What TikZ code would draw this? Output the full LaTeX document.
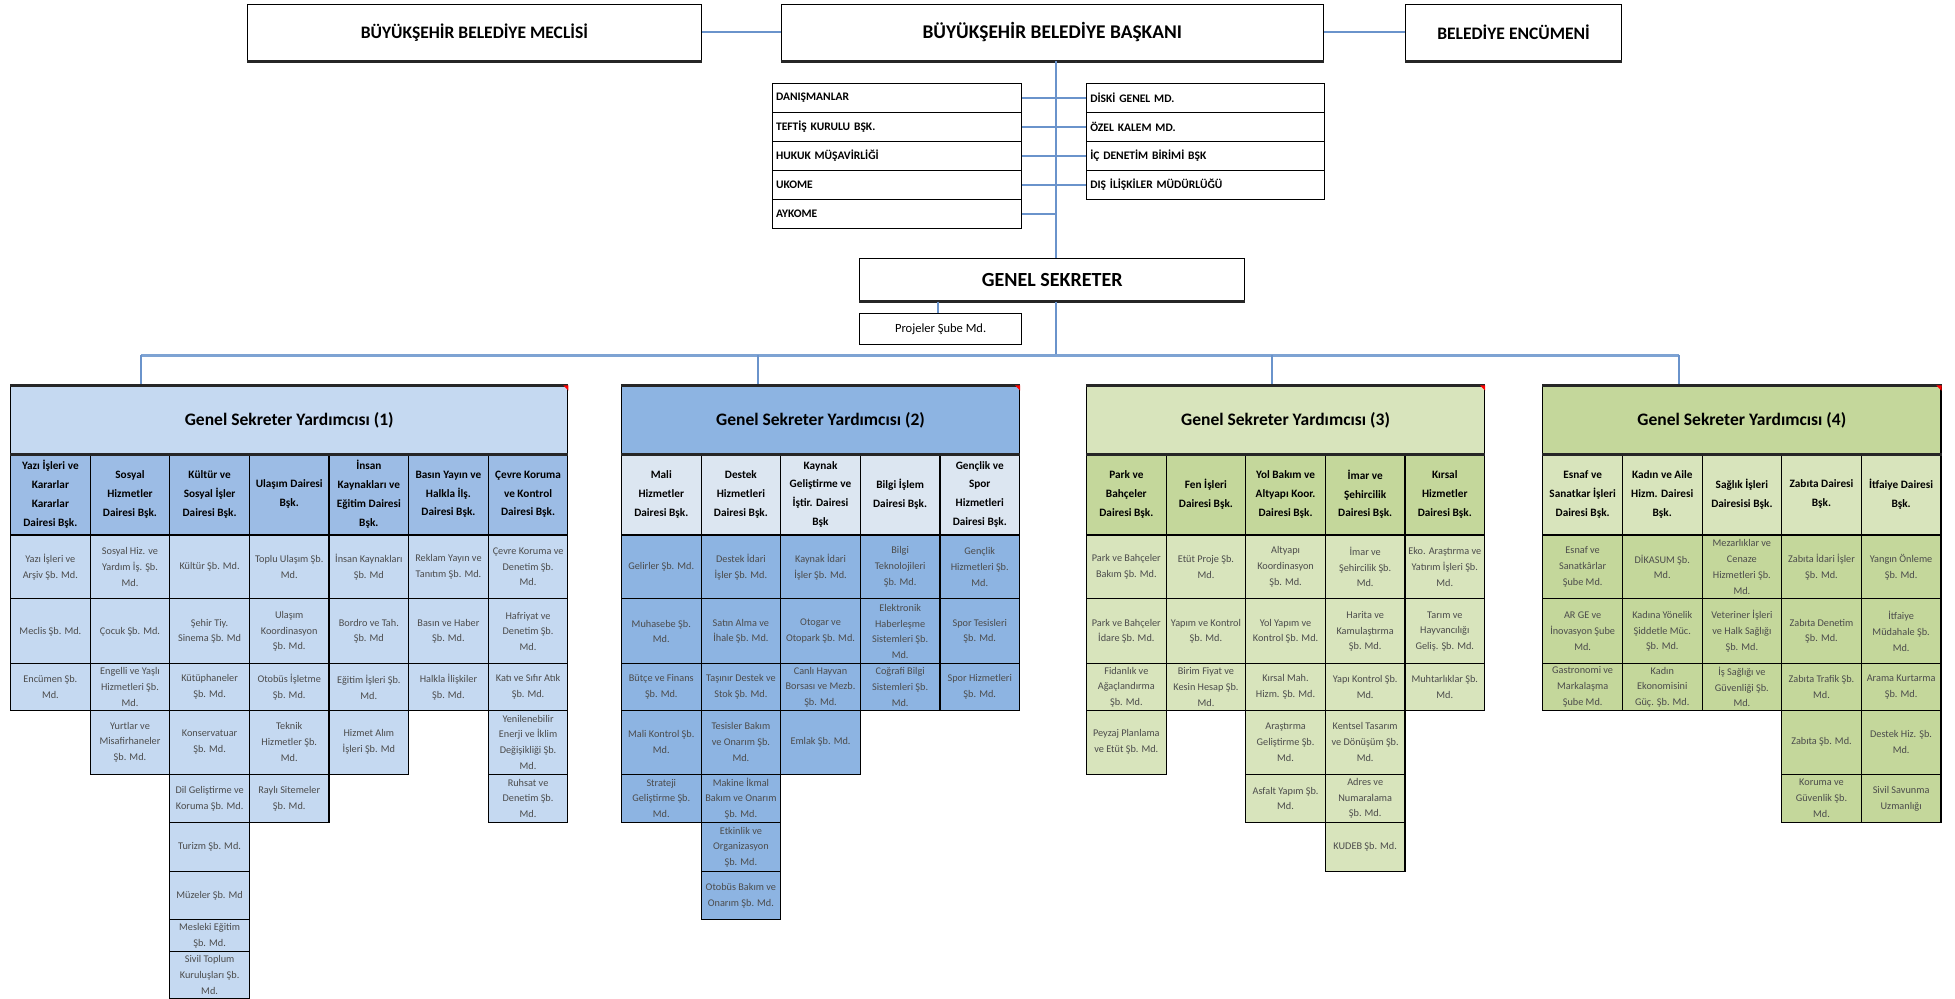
\documentclass[tikz,border=0pt]{standalone}
\usepackage{fontspec}
\setmainfont{Carlito}
\definecolor{gAt}{HTML}{C5D9F1}
\definecolor{gAh}{HTML}{9CBCE5}
\definecolor{gBt}{HTML}{8DB4E2}
\definecolor{gBh}{HTML}{DCE6F1}
\definecolor{gCt}{HTML}{D8E4BC}
\definecolor{gCh}{HTML}{C4D79B}
\definecolor{gDt}{HTML}{C4D79B}
\definecolor{gDh}{HTML}{D8E4BC}
\definecolor{lineblue}{HTML}{6A93CB}
\definecolor{busblue}{HTML}{7EA3D3}
\tikzset{
  cellbase/.style={draw=black, line width=0.9pt, anchor=north west, minimum width=63.61pt, align=center, inner xsep=0pt, inner ysep=0pt},
  hdA/.style={cellbase, fill=gAh, font=\fontsize{9}{15}\selectfont\bfseries},
  bdA/.style={cellbase, fill=gAt, text=black!70, font=\fontsize{8.2}{12.6}\selectfont},
  hdB/.style={cellbase, fill=gBh, font=\fontsize{9}{15}\selectfont\bfseries},
  bdB/.style={cellbase, fill=gBt, text=black!70, font=\fontsize{8.2}{12.6}\selectfont},
  hdC/.style={cellbase, fill=gCh, font=\fontsize{9}{15}\selectfont\bfseries},
  bdC/.style={cellbase, fill=gCt, text=black!70, font=\fontsize{8.2}{12.6}\selectfont},
  hdD/.style={cellbase, fill=gDh, font=\fontsize{9}{15}\selectfont\bfseries},
  bdD/.style={cellbase, fill=gDt, text=black!70, font=\fontsize{8.2}{12.6}\selectfont},
  gtitle/.style={draw=black, line width=0.9pt, anchor=north west, minimum width=318.05pt, minimum height=54pt, font=\fontsize{14}{16}\selectfont\bfseries},
  topbox/.style={draw=black, line width=0.9pt, anchor=north west, fill=white, minimum height=45pt, font=\fontsize{14}{16}\selectfont\bfseries},
  smallbox/.style={draw=black, line width=0.9pt, anchor=north west, fill=white, minimum height=23.2pt, align=left, inner xsep=3pt, inner ysep=0pt, font=\fontsize{9.2}{10}\selectfont\bfseries},
  conn/.style={draw=lineblue, line width=1.6pt},
  busline/.style={draw=busblue, line width=3pt},
  heavy/.style={line width=2.4pt, draw=black!85},
  corner/.style={fill=red},
}
\newcommand\cl[6]{\node[#1, minimum height=#5pt] (#2) at (#3,#4) {#6};}
\begin{document}
\begin{tikzpicture}[x=1pt, y=-1pt]
\useasboundingbox (0,0) rectangle (1562,797.4);

% ---------- top level ----------
\node[topbox, minimum width=362.5pt] (meclis) at (197.3,3) {BÜYÜKŞEHİR BELEDİYE MECLİSİ};
\node[topbox, minimum width=433.3pt, font=\fontsize{15.5}{17}\selectfont\bfseries] (baskan) at (623.6,3) {BÜYÜKŞEHİR BELEDİYE BAŞKANI};
\node[topbox, minimum width=172.3pt] (encumen) at (1122.7,3) {BELEDİYE ENCÜMENİ};
\foreach \n in {meclis,baskan,encumen}{\draw[heavy] (\n.south west) -- (\n.south east);}
\draw[conn] (meclis.east) -- (baskan.west);
\draw[conn] (baskan.east) -- (encumen.west);

\coordinate (tr) at (843.7,0);

% left staff boxes
\node[smallbox, text width=193.2pt] (dan) at (616.6,66) {DANIŞMANLAR};
\node[smallbox, text width=193.2pt] (tef) at (616.6,89.2) {TEFTİŞ KURULU BŞK.};
\node[smallbox, text width=193.2pt] (huk) at (616.6,112.4) {HUKUK MÜŞAVİRLİĞİ};
\node[smallbox, text width=193.2pt] (ukome) at (616.6,135.6) {UKOME};
\node[smallbox, text width=193.2pt] (aykome) at (616.6,158.8) {AYKOME};
% right staff boxes
\node[smallbox, text width=184.2pt] (diski) at (867.7,66) {DİSKİ GENEL MD.};
\node[smallbox, text width=184.2pt] (ozel) at (867.7,89.2) {ÖZEL KALEM MD.};
\node[smallbox, text width=184.2pt] (icden) at (867.7,112.4) {İÇ DENETİM BİRİMİ BŞK};
\node[smallbox, text width=184.2pt] (disil) at (867.7,135.6) {DIŞ İLİŞKİLER MÜDÜRLÜĞÜ};

% general secretary
\node[topbox, minimum width=307.8pt, minimum height=34pt, font=\fontsize{16}{18}\selectfont\bfseries] (gs) at (686.4,206) {GENEL SEKRETER};
\draw[heavy] (gs.south west) -- (gs.south east);
\node[draw=black, line width=0.9pt, anchor=north west, fill=white, minimum width=129.4pt, minimum height=25pt, font=\fontsize{10}{12}\selectfont] (proj) at (686.4,250) {Projeler Şube Md.};

\draw[conn] (baskan.south -| tr) -- (gs.north -| tr);
\foreach \n in {dan,tef,huk,ukome,aykome}{\draw[conn] (\n.east) -- (\n.east -| tr);}
\foreach \n in {diski,ozel,icden,disil}{\draw[conn] (\n.west) -- (\n.west -| tr);}
\coordinate (pj) at (749.1,0);
\draw[conn] (gs.south -| pj) -- (proj.north -| pj);

% bus
\coordinate (b0) at (843.7,284);
\coordinate (b1) at (112.6,284);
\coordinate (b2) at (605.7,284);
\coordinate (b3) at (1016.1,284);
\coordinate (b4) at (1341.8,284);
\draw[conn] (gs.south -| tr) -- (b0);
\draw[busline] (b1) -- (b4);

% ---------- group titles ----------
\node[gtitle, fill=gAt, minimum width=445.27pt] (g1) at (8,308) {Genel Sekreter Yardımcısı (1)};
\node[gtitle, fill=gBt] (g2) at (496.1,308) {Genel Sekreter Yardımcısı (2)};
\node[gtitle, fill=gCt] (g3) at (867.66,308) {Genel Sekreter Yardımcısı (3)};
\node[gtitle, fill=gDt] (g4) at (1232.24,308) {Genel Sekreter Yardımcısı (4)};
\draw[conn] (b1) -- (b1 |- g1.north);
\draw[conn] (b2) -- (b2 |- g2.north);
\draw[conn] (b3) -- (b3 |- g3.north);
\draw[conn] (b4) -- (b4 |- g4.north);

% ---------- group 1 ----------
\def\xa{8}\def\xb{71.61}\def\xc{135.22}\def\xd{198.83}\def\xe{262.44}\def\xf{326.05}\def\xg{389.66}
\cl{hdA}{g1h1}{\xa}{362}{65}{Yazı İşleri ve\\Kararlar\\Kararlar\\Dairesi Bşk.}
\cl{hdA}{g1h2}{\xb}{362}{65}{Sosyal\\Hizmetler\\Dairesi Bşk.}
\cl{hdA}{g1h3}{\xc}{362}{65}{Kültür ve\\Sosyal İşler\\Dairesi Bşk.}
\cl{hdA}{g1h4}{\xd}{362}{65}{Ulaşım Dairesi\\Bşk.}
\cl{hdA}{g1h5}{\xe}{362}{65}{İnsan\\Kaynakları ve\\Eğitim Dairesi\\Bşk.}
\cl{hdA}{g1h6}{\xf}{362}{65}{Basın Yayın ve\\Halkla İlş.\\Dairesi Bşk.}
\cl{hdA}{g1h7}{\xg}{362}{65}{Çevre Koruma\\ve Kontrol\\Dairesi Bşk.}

\cl{bdA}{g1a1}{\xa}{427}{51}{Yazı İşleri ve\\Arşiv Şb. Md.}
\cl{bdA}{g1a2}{\xa}{478}{52}{Meclis Şb. Md.}
\cl{bdA}{g1a3}{\xa}{530}{37}{Encümen Şb.\\Md.}

\cl{bdA}{g1b1}{\xb}{427}{51}{Sosyal Hiz. ve\\Yardım İş. Şb.\\Md.}
\cl{bdA}{g1b2}{\xb}{478}{52}{Çocuk Şb. Md.}
\cl{bdA}{g1b3}{\xb}{530}{37}{Engelli ve Yaşlı\\Hizmetleri Şb.\\Md.}
\cl{bdA}{g1b4}{\xb}{567}{51}{Yurtlar ve\\Misafirhaneler\\Şb. Md.}

\cl{bdA}{g1c1}{\xc}{427}{51}{Kültür Şb. Md.}
\cl{bdA}{g1c2}{\xc}{478}{52}{Şehir Tiy.\\Sinema Şb. Md}
\cl{bdA}{g1c3}{\xc}{530}{37}{Kütüphaneler\\Şb. Md.}
\cl{bdA}{g1c4}{\xc}{567}{51}{Konservatuar\\Şb. Md.}
\cl{bdA}{g1c5}{\xc}{618}{39}{Dil Geliştirme ve\\Koruma Şb. Md.}
\cl{bdA}{g1c6}{\xc}{657}{39}{Turizm Şb. Md.}
\cl{bdA}{g1c7}{\xc}{696}{38}{Müzeler Şb. Md}
\cl{bdA}{g1c8}{\xc}{734}{26}{Mesleki Eğitim\\Şb. Md.}
\cl{bdA}{g1c9}{\xc}{760}{37}{Sivil Toplum\\Kuruluşları Şb.\\Md.}

\cl{bdA}{g1d1}{\xd}{427}{51}{Toplu Ulaşım Şb.\\Md.}
\cl{bdA}{g1d2}{\xd}{478}{52}{Ulaşım\\Koordinasyon\\Şb. Md.}
\cl{bdA}{g1d3}{\xd}{530}{37}{Otobüs İşletme\\Şb. Md.}
\cl{bdA}{g1d4}{\xd}{567}{51}{Teknik\\Hizmetler Şb.\\Md.}
\cl{bdA}{g1d5}{\xd}{618}{39}{Raylı Sitemeler\\Şb. Md.}

\cl{bdA}{g1e1}{\xe}{427}{51}{İnsan Kaynakları\\Şb. Md}
\cl{bdA}{g1e2}{\xe}{478}{52}{Bordro ve Tah.\\Şb. Md}
\cl{bdA}{g1e3}{\xe}{530}{37}{Eğitim İşleri Şb.\\Md.}
\cl{bdA}{g1e4}{\xe}{567}{51}{Hizmet Alım\\İşleri Şb. Md}

\cl{bdA}{g1f1}{\xf}{427}{51}{Reklam Yayın ve\\Tanıtım Şb. Md.}
\cl{bdA}{g1f2}{\xf}{478}{52}{Basın ve Haber\\Şb. Md.}
\cl{bdA}{g1f3}{\xf}{530}{37}{Halkla İlişkiler\\Şb. Md.}

\cl{bdA}{g1g1}{\xg}{427}{51}{Çevre Koruma ve\\Denetim Şb.\\Md.}
\cl{bdA}{g1g2}{\xg}{478}{52}{Hafriyat ve\\Denetim Şb.\\Md.}
\cl{bdA}{g1g3}{\xg}{530}{37}{Katı ve Sıfır Atık\\Şb. Md.}
\cl{bdA}{g1g4}{\xg}{567}{51}{Yenilenebilir\\Enerji ve İklim\\Değişikliği Şb.\\Md.}
\cl{bdA}{g1g5}{\xg}{618}{39}{Ruhsat ve\\Denetim Şb.\\Md.}

% ---------- group 2 ----------
\def\xa{496.1}\def\xb{559.71}\def\xc{623.32}\def\xd{686.93}\def\xe{750.54}
\cl{hdB}{g2h1}{\xa}{362}{65}{Mali\\Hizmetler\\Dairesi Bşk.}
\cl{hdB}{g2h2}{\xb}{362}{65}{Destek\\Hizmetleri\\Dairesi Bşk.}
\cl{hdB}{g2h3}{\xc}{362}{65}{Kaynak\\Geliştirme ve\\İştir. Dairesi\\Bşk}
\cl{hdB}{g2h4}{\xd}{362}{65}{Bilgi İşlem\\Dairesi Bşk.}
\cl{hdB}{g2h5}{\xe}{362}{65}{Gençlik ve\\Spor\\Hizmetleri\\Dairesi Bşk.}

\cl{bdB}{g2a1}{\xa}{427}{51}{Gelirler Şb. Md.}
\cl{bdB}{g2a2}{\xa}{478}{52}{Muhasebe Şb.\\Md.}
\cl{bdB}{g2a3}{\xa}{530}{37}{Bütçe ve Finans\\Şb. Md.}
\cl{bdB}{g2a4}{\xa}{567}{51}{Mali Kontrol Şb.\\Md.}
\cl{bdB}{g2a5}{\xa}{618}{39}{Strateji\\Geliştirme Şb.\\Md.}

\cl{bdB}{g2b1}{\xb}{427}{51}{Destek İdari\\İşler Şb. Md.}
\cl{bdB}{g2b2}{\xb}{478}{52}{Satın Alma ve\\İhale Şb. Md.}
\cl{bdB}{g2b3}{\xb}{530}{37}{Taşınır Destek ve\\Stok Şb. Md.}
\cl{bdB}{g2b4}{\xb}{567}{51}{Tesisler Bakım\\ve Onarım Şb.\\Md.}
\cl{bdB}{g2b5}{\xb}{618}{39}{Makine İkmal\\Bakım ve Onarım\\Şb. Md.}
\cl{bdB}{g2b6}{\xb}{657}{39}{Etkinlik ve\\Organizasyon\\Şb. Md.}
\cl{bdB}{g2b7}{\xb}{696}{38}{Otobüs Bakım ve\\Onarım Şb. Md.}

\cl{bdB}{g2c1}{\xc}{427}{51}{Kaynak İdari\\İşler Şb. Md.}
\cl{bdB}{g2c2}{\xc}{478}{52}{Otogar ve\\Otopark Şb. Md.}
\cl{bdB}{g2c3}{\xc}{530}{37}{Canlı Hayvan\\Borsası ve Mezb.\\Şb. Md.}
\cl{bdB}{g2c4}{\xc}{567}{51}{Emlak Şb. Md.}

\cl{bdB}{g2d1}{\xd}{427}{51}{Bilgi\\Teknolojileri\\Şb. Md.}
\cl{bdB}{g2d2}{\xd}{478}{52}{Elektronik\\Haberleşme\\Sistemleri Şb.\\Md.}
\cl{bdB}{g2d3}{\xd}{530}{37}{Coğrafi Bilgi\\Sistemleri Şb.\\Md.}

\cl{bdB}{g2e1}{\xe}{427}{51}{Gençlik\\Hizmetleri Şb.\\Md.}
\cl{bdB}{g2e2}{\xe}{478}{52}{Spor Tesisleri\\Şb. Md.}
\cl{bdB}{g2e3}{\xe}{530}{37}{Spor Hizmetleri\\Şb. Md.}

% ---------- group 3 ----------
\def\xa{867.66}\def\xb{931.27}\def\xc{994.88}\def\xd{1058.49}\def\xe{1122.1}
\cl{hdC}{g3h1}{\xa}{362}{65}{Park ve\\Bahçeler\\Dairesi Bşk.}
\cl{hdC}{g3h2}{\xb}{362}{65}{Fen İşleri\\Dairesi Bşk.}
\cl{hdC}{g3h3}{\xc}{362}{65}{Yol Bakım ve\\Altyapı Koor.\\Dairesi Bşk.}
\cl{hdC}{g3h4}{\xd}{362}{65}{İmar ve\\Şehircilik\\Dairesi Bşk.}
\cl{hdC}{g3h5}{\xe}{362}{65}{Kırsal\\Hizmetler\\Dairesi Bşk.}

\cl{bdC}{g3a1}{\xa}{427}{51}{Park ve Bahçeler\\Bakım Şb. Md.}
\cl{bdC}{g3a2}{\xa}{478}{52}{Park ve Bahçeler\\İdare Şb. Md.}
\cl{bdC}{g3a3}{\xa}{530}{37}{Fidanlık ve\\Ağaçlandırma\\Şb. Md.}
\cl{bdC}{g3a4}{\xa}{567}{51}{Peyzaj Planlama\\ve Etüt Şb. Md.}

\cl{bdC}{g3b1}{\xb}{427}{51}{Etüt Proje Şb.\\Md.}
\cl{bdC}{g3b2}{\xb}{478}{52}{Yapım ve Kontrol\\Şb. Md.}
\cl{bdC}{g3b3}{\xb}{530}{37}{Birim Fiyat ve\\Kesin Hesap Şb.\\Md.}

\cl{bdC}{g3c1}{\xc}{427}{51}{Altyapı\\Koordinasyon\\Şb. Md.}
\cl{bdC}{g3c2}{\xc}{478}{52}{Yol Yapım ve\\Kontrol Şb. Md.}
\cl{bdC}{g3c3}{\xc}{530}{37}{Kırsal Mah.\\Hizm. Şb. Md.}
\cl{bdC}{g3c4}{\xc}{567}{51}{Araştırma\\Geliştirme Şb.\\Md.}
\cl{bdC}{g3c5}{\xc}{618}{39}{Asfalt Yapım Şb.\\Md.}

\cl{bdC}{g3d1}{\xd}{427}{51}{İmar ve\\Şehircilik Şb.\\Md.}
\cl{bdC}{g3d2}{\xd}{478}{52}{Harita ve\\Kamulaştırma\\Şb. Md.}
\cl{bdC}{g3d3}{\xd}{530}{37}{Yapı Kontrol Şb.\\Md.}
\cl{bdC}{g3d4}{\xd}{567}{51}{Kentsel Tasarım\\ve Dönüşüm Şb.\\Md.}
\cl{bdC}{g3d5}{\xd}{618}{39}{Adres ve\\Numaralama\\Şb. Md.}
\cl{bdC}{g3d6}{\xd}{657}{39}{KUDEB Şb. Md.}

\cl{bdC}{g3e1}{\xe}{427}{51}{Eko. Araştırma ve\\Yatırım İşleri Şb.\\Md.}
\cl{bdC}{g3e2}{\xe}{478}{52}{Tarım ve\\Hayvancılığı\\Geliş. Şb. Md.}
\cl{bdC}{g3e3}{\xe}{530}{37}{Muhtarlıklar Şb.\\Md.}

% ---------- group 4 ----------
\def\xa{1232.24}\def\xb{1295.85}\def\xc{1359.46}\def\xd{1423.07}\def\xe{1486.68}
\cl{hdD}{g4h1}{\xa}{362}{65}{Esnaf ve\\Sanatkar İşleri\\Dairesi Bşk.}
\cl{hdD}{g4h2}{\xb}{362}{65}{Kadın ve Aile\\Hizm. Dairesi\\Bşk.}
\cl{hdD}{g4h3}{\xc}{362}{65}{Sağlık İşleri\\Dairesisi Bşk.}
\cl{hdD}{g4h4}{\xd}{362}{65}{Zabıta Dairesi\\Bşk.}
\cl{hdD}{g4h5}{\xe}{362}{65}{İtfaiye Dairesi\\Bşk.}

\cl{bdD}{g4a1}{\xa}{427}{51}{Esnaf ve\\Sanatkârlar\\Şube Md.}
\cl{bdD}{g4a2}{\xa}{478}{52}{AR GE ve\\İnovasyon Şube\\Md.}
\cl{bdD}{g4a3}{\xa}{530}{37}{Gastronomi ve\\Markalaşma\\Şube Md.}

\cl{bdD}{g4b1}{\xb}{427}{51}{DİKASUM Şb.\\Md.}
\cl{bdD}{g4b2}{\xb}{478}{52}{Kadına Yönelik\\Şiddetle Müc.\\Şb. Md.}
\cl{bdD}{g4b3}{\xb}{530}{37}{Kadın\\Ekonomisini\\Güç. Şb. Md.}

\cl{bdD}{g4c1}{\xc}{427}{51}{Mezarlıklar ve\\Cenaze\\Hizmetleri Şb.\\Md.}
\cl{bdD}{g4c2}{\xc}{478}{52}{Veteriner İşleri\\ve Halk Sağlığı\\Şb. Md.}
\cl{bdD}{g4c3}{\xc}{530}{37}{İş Sağlığı ve\\Güvenliği Şb.\\Md.}

\cl{bdD}{g4d1}{\xd}{427}{51}{Zabıta İdari İşler\\Şb. Md.}
\cl{bdD}{g4d2}{\xd}{478}{52}{Zabıta Denetim\\Şb. Md.}
\cl{bdD}{g4d3}{\xd}{530}{37}{Zabıta Trafik Şb.\\Md.}
\cl{bdD}{g4d4}{\xd}{567}{51}{Zabıta Şb. Md.}
\cl{bdD}{g4d5}{\xd}{618}{39}{Koruma ve\\Güvenlik Şb.\\Md.}

\cl{bdD}{g4e1}{\xe}{427}{51}{Yangın Önleme\\Şb. Md.}
\cl{bdD}{g4e2}{\xe}{478}{52}{İtfaiye\\Müdahale Şb.\\Md.}
\cl{bdD}{g4e3}{\xe}{530}{37}{Arama Kurtarma\\Şb. Md.}
\cl{bdD}{g4e4}{\xe}{567}{51}{Destek Hiz. Şb.\\Md.}
\cl{bdD}{g4e5}{\xe}{618}{39}{Sivil Savunma\\Uzmanlığı}

% heavy edges of the title boxes and comment markers
\foreach \g in {g1,g2,g3,g4}{
  \draw[heavy] (\g.north west) -- (\g.north east);
  \draw[heavy] (\g.south west) -- (\g.south east);
  \fill[corner] (\g.north east) -- ++(-4,0) -- ++(4,4) -- cycle;
}
\end{tikzpicture}
\end{document}
